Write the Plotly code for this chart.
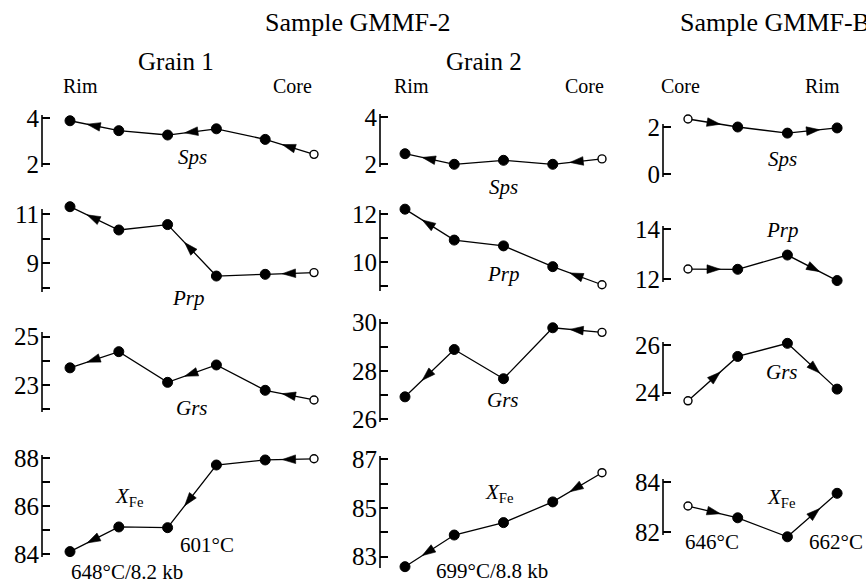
import plotly.graph_objects as go

W, H = 866, 584

# ---------------- data ----------------
components = ["Sps", "Prp", "Grs", "XFe"]

g1_sps = [3.88, 3.45, 3.26, 3.53, 3.07, 2.42]
g1_prp = [11.31, 10.36, 10.58, 8.48, 8.55, 8.62]
g1_grs = [23.71, 24.38, 23.11, 23.83, 22.78, 22.38]
g1_xfe = [84.10, 85.13, 85.10, 87.72, 87.93, 87.98]

g2_sps = [2.45, 2.00, 2.17, 2.00, 2.23]
g2_prp = [12.20, 10.92, 10.68, 9.82, 9.07]
g2_grs = [26.93, 28.89, 27.68, 29.79, 29.60]
g2_xfe = [82.59, 83.89, 84.40, 85.25, 86.45]

gb_sps = [2.34, 2.00, 1.74, 1.96]
gb_prp = [12.41, 12.40, 12.97, 11.95]
gb_grs = [23.66, 25.52, 26.07, 24.15]
gb_xfe = [83.05, 82.58, 81.82, 83.56]

# labelled (major) and unlabelled (minor) tick values per panel
g1_major = [[2, 4], [9, 11], [23, 25], [84, 86, 88]]
g1_minor = [[], [8, 10], [22, 24], [85, 87]]
g2_major = [[2, 4], [10, 12], [26, 28, 30], [83, 85, 87]]
g2_minor = [[], [9, 11], [27, 29], [84, 86]]
gb_major = [[0, 2], [12, 14], [24, 26], [82, 84]]
gb_minor = [[], [], [], []]

# ---------------- layout geometry (pixels) ----------------
col_geom = [
    dict(xa=42, x0=70, dx=48.8, xr=330),
    dict(xa=380, x0=405, dx=49.25, xr=615),
    dict(xa=663, x0=688, dx=49.7, xr=850),
]
# per panel: tick a value, its pixel, tick b value, its pixel, axis-line top, axis-line bottom
panel_geom = [
    [
        (4, 118.0, 2, 164.0, 115, 167),
        (11, 214.3, 9, 263.3, 209, 292),
        (25, 336.7, 23, 385.0, 332, 412),
        (88, 458.3, 84, 554.0, 455, 557),
    ],
    [
        (4, 117.3, 2, 164.3, 114, 167),
        (12, 214.0, 10, 262.3, 210, 291),
        (30, 322.7, 26, 419.3, 319, 422),
        (87, 459.3, 83, 556.7, 456, 568),
    ],
    [
        (2, 127.0, 0, 174.0, 124, 177),
        (14, 229.3, 12, 279.3, 226, 282),
        (26, 345.0, 24, 392.7, 342, 396),
        (84, 482.3, 82, 532.3, 479, 535),
    ],
]

columns = [
    dict(values=[g1_sps, g1_prp, g1_grs, g1_xfe], major=g1_major, minor=g1_minor,
         open_idx=5, arrows=[(1, 0), (3, 2), (5, 4)]),
    dict(values=[g2_sps, g2_prp, g2_grs, g2_xfe], major=g2_major, minor=g2_minor,
         open_idx=4, arrows=[(1, 0), (4, 3)]),
    dict(values=[gb_sps, gb_prp, gb_grs, gb_xfe], major=gb_major, minor=gb_minor,
         open_idx=0, arrows=[(0, 1), (2, 3)]),
]

FONT = '"Liberation Serif", "Times New Roman", Times, "DejaVu Serif", serif'
PAD = 30
ARROW_FRAC = 0.65
fig = go.Figure()
layout = dict(
    width=W, height=H, margin=dict(l=0, r=0, t=0, b=0),
    paper_bgcolor="white", plot_bgcolor="rgba(0,0,0,0)", showlegend=False,
    font=dict(family=FONT, color="black"),
)
annotations = []
shapes = []

n = 0
for c, col in enumerate(columns):
    cg = col_geom[c]
    for r in range(4):
        n += 1
        sfx = "" if n == 1 else str(n)
        ys = col["values"][r]
        xs = list(range(len(ys)))
        va, pa, vb, pb, top, bot = panel_geom[c][r]
        ppu = (pb - pa) / (va - vb)
        top_d = max(top - PAD, 0)
        bot_d = min(bot + PAD, H)
        yr = [vb - (bot_d - pb) / ppu, va + (pa - top_d) / ppu]
        xr = [(cg["xa"] - cg["x0"]) / cg["dx"], (cg["xr"] - cg["x0"]) / cg["dx"]]
        layout["xaxis" + sfx] = dict(domain=[cg["xa"] / W, cg["xr"] / W], range=xr,
                                     visible=False, anchor="y" + sfx)
        yax = dict(
            domain=[1 - bot_d / H, 1 - top_d / H], range=yr, anchor="x" + sfx,
            showline=False,
            ticks="inside", ticklen=8, tickwidth=1.5, tickcolor="black",
            tickmode="array", tickvals=col["major"][r],
            showgrid=False, zeroline=False,
            tickfont=dict(family=FONT, size=25, color="black"),
            ticklabelstandoff=2,
        )
        if col["minor"][r]:
            yax["minor"] = dict(tickmode="array", tickvals=col["minor"][r], ticks="inside",
                                ticklen=8, tickwidth=1.5, tickcolor="black", showgrid=False)
        layout["yaxis" + sfx] = yax
        # axis spine drawn through the axis scale
        shapes.append(dict(type="line", xref="x" + sfx + " domain", yref="y" + sfx,
                           x0=0, x1=0,
                           y0=vb - (bot - pb) / ppu, y1=va + (pa - top) / ppu,
                           line=dict(color="black", width=1.6)))
        fills = ["white" if i == col["open_idx"] else "black" for i in xs]
        sizes = [8 if i == col["open_idx"] else 10 for i in xs]
        lw = [1.4 if i == col["open_idx"] else 1.0 for i in xs]
        fig.add_trace(go.Scatter(
            x=xs, y=ys, mode="lines+markers", xaxis="x" + sfx, yaxis="y" + sfx,
            line=dict(color="black", width=1.3),
            marker=dict(color=fills, size=sizes, opacity=1,
                        line=dict(color="black", width=lw)),
            cliponaxis=False, hoverinfo="skip",
        ))
        # direction arrows: each pair = (segment start, arrow tip); library orients tip
        ax_x, ax_y, ax_s = [], [], []
        for f, t in col["arrows"]:
            ax_x += [xs[f], xs[f] + ARROW_FRAC * (xs[t] - xs[f])]
            ax_y += [ys[f], ys[f] + ARROW_FRAC * (ys[t] - ys[f])]
            ax_s += [0, 14]
        fig.add_trace(go.Scatter(
            x=ax_x, y=ax_y, mode="markers", xaxis="x" + sfx, yaxis="y" + sfx,
            marker=dict(symbol="arrow", size=ax_s, color="black", angleref="previous",
                        opacity=1, line=dict(width=0.6, color="black")),
            cliponaxis=False, hoverinfo="skip",
        ))


def txt(s, x, y, size=21, anchor="center"):
    annotations.append(dict(text=s, x=x / W, y=1 - y / H, xref="paper", yref="paper",
                            showarrow=False, xanchor=anchor, yanchor="middle",
                            font=dict(family=FONT, size=size, color="black")))


# headers
txt("Sample GMMF-2", 358, 22, size=26)
txt("Sample GMMF-B", 678, 22, size=26, anchor="left")
txt("Grain 1", 176, 62, size=25)
txt("Grain 2", 484, 62, size=25)
txt("Rim", 80, 86, size=20)
txt("Core", 292, 86, size=20)
txt("Rim", 411, 86, size=20)
txt("Core", 584, 86, size=20)
txt("Core", 680, 86, size=20)
txt("Rim", 822, 86, size=20)

# component labels
comp_pos = [
    [(192, 157), (188, 298), (192, 408), (129, 497)],
    [(503, 187), (503, 274), (503, 400), (500, 493)],
    [(782, 159), (782, 230), (782, 372), (781, 498)],
]
for c in range(3):
    for r, name in enumerate(components):
        x, y = comp_pos[c][r]
        label = "<i>X</i><sub>Fe</sub>" if name == "XFe" else "<i>%s</i>" % name
        txt(label, x, y, size=21)

# temperatures
txt("601°C", 207, 545)
txt("648°C/8.2 kb", 127, 572)
txt("699°C/8.8 kb", 492, 571)
txt("646°C", 712, 542)
txt("662°C", 836, 542)

layout["annotations"] = annotations
layout["shapes"] = shapes
fig.update_layout(**layout)
fig.write_html("out.html")
